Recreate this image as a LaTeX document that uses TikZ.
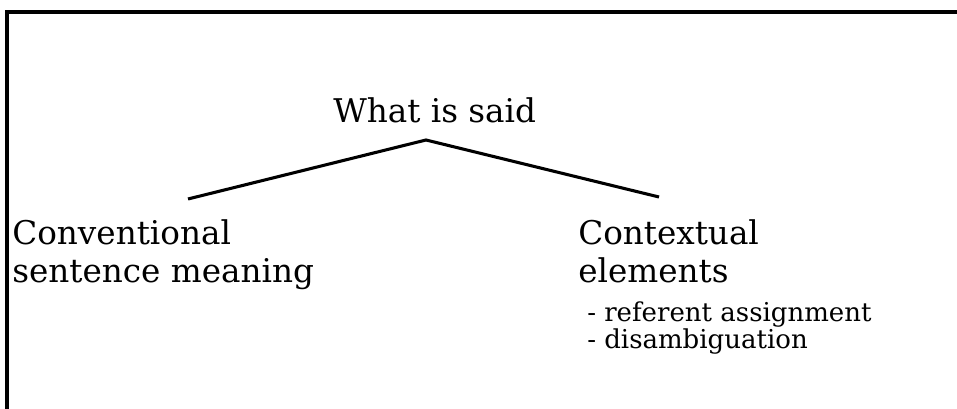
\documentclass[tikz,border=0pt]{standalone}
\usepackage{fontspec}
\setmainfont{DejaVu Serif}
\usetikzlibrary{positioning}

\begin{document}
\begin{tikzpicture}[x=0.75pt,y=-0.75pt]
  \tikzstyle{term}=[inner sep=0pt,anchor=base west,align=left,
    font=\fontsize{24.5}{28.5}\selectfont]
  \tikzstyle{sub}=[inner sep=0pt,anchor=base west,align=left,
    font=\fontsize{19.5}{20.3}\selectfont]
  \useasboundingbox (0,0) rectangle (957,409);
  \draw[line width=2.6pt] (957,12) -- (7,12) -- (7,409);
  \node[term] (said) at (333,123) {What is said};
  \node[term] (conv) at (12,283) {Conventional\\sentence meaning};
  \node[term] (ctx) at (578,283) {Contextual\\elements};
  \node[sub] (elems) at (587,349) {- referent assignment\\- disambiguation};
  \coordinate (apex) at (426,140);
  \coordinate (lend) at (188,199);
  \coordinate (rend) at (659,197);
  \draw[line width=2.3pt] (lend)--(apex)--(rend);
\end{tikzpicture}
\end{document}
